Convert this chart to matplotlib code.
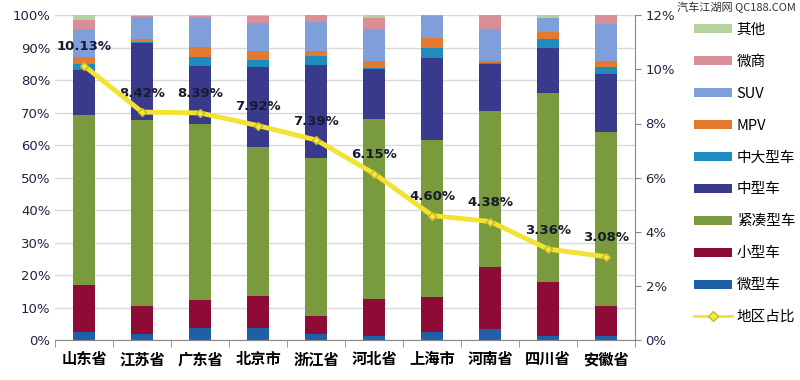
import numpy as np
import matplotlib
matplotlib.use("Agg")
import matplotlib.pyplot as plt
from matplotlib.ticker import FuncFormatter
from matplotlib.lines import Line2D
from matplotlib.patches import Patch

plt.rcParams['font.family'] = ['Noto Sans CJK SC', 'DejaVu Sans']

regions = ['山东省', '江苏省', '广东省', '北京市', '浙江省', '河北省', '上海市', '河南省', '四川省', '安徽省']

# segment shares (%) per region, bottom to top
micro = [2.5, 1.8, 3.7, 3.7, 1.8, 1.4, 2.5, 3.3, 1.4, 1.4]
small = [14.4, 8.7, 8.6, 9.9, 5.7, 11.1, 10.8, 19.1, 16.5, 9.1]
compact = [52.5, 57.2, 54.2, 45.7, 48.7, 55.4, 48.4, 48.1, 58.3, 53.4]
mid = [13.7, 23.6, 17.9, 24.8, 28.6, 15.4, 25.0, 14.6, 13.7, 18.1]
midlarge = [1.8, 0.3, 2.6, 2.1, 2.6, 0.3, 3.2, 0.3, 2.9, 2.1]
mpv = [2.3, 1.0, 3.3, 2.7, 1.6, 2.3, 3.2, 0.5, 1.9, 1.8]
suv = [8.7, 6.7, 8.7, 8.7, 8.9, 9.7, 6.7, 10.0, 4.5, 11.3]
weishang = [2.6, 0.5, 0.8, 2.2, 2.1, 3.6, 0.2, 4.1, 0.0, 2.8]
other = [1.5, 0.2, 0.2, 0.2, 0.0, 0.8, 0.0, 0.0, 0.8, 0.0]

share = [10.13, 8.42, 8.39, 7.92, 7.39, 6.15, 4.60, 4.38, 3.36, 3.08]

series = [
    ('微型车', micro, '#1f5fa8'),
    ('小型车', small, '#8e0b35'),
    ('紧凑型车', compact, '#7a9a3e'),
    ('中型车', mid, '#3a3a8c'),
    ('中大型车', midlarge, '#1f8cbf'),
    ('MPV', mpv, '#e47a2e'),
    ('SUV', suv, '#7f9fdb'),
    ('微商', weishang, '#d98e98'),
    ('其他', other, '#b5d39c'),
]

fig = plt.figure(figsize=(8, 3.8), dpi=100)
ax = fig.add_axes([0.069, 0.105, 0.725, 0.855])
x = np.arange(len(regions))
bottom = np.zeros(len(regions))
for name, vals, color in series:
    ax.bar(x, vals, 0.38, bottom=bottom, color=color, label=name, zorder=2)
    bottom += np.array(vals)

ax.set_xlim(-0.5, len(regions) - 0.5)
ax.set_ylim(0, 100)
ax.set_yticks(np.arange(0, 101, 10))
ax.yaxis.set_major_formatter(FuncFormatter(lambda v, p: f'{v:.0f}%'))
ax.grid(axis='y', color='#d9d9d9', linewidth=1, zorder=0)
ax.set_xticks(x)
ax.set_xticklabels(regions, fontsize=11, fontweight='bold')
ax.set_xticks(np.arange(-0.5, len(regions)), minor=True)
ax.tick_params(axis='x', which='major', length=0, pad=8)
ax.tick_params(axis='x', which='minor', length=5, color='#888888')
ax.tick_params(axis='y', length=0, labelsize=9.5, labelcolor='#222244')
for lab in ax.get_yticklabels():
    lab.set_family('DejaVu Sans')
for s in ['top', 'left', 'right']:
    ax.spines[s].set_visible(False)
ax.spines['bottom'].set_color('#888888')

ax2 = ax.twinx()
ax2.plot(x, share, color='#f2e332', linewidth=3.5, marker='D', markersize=4,
         markerfacecolor='#f5e84a', markeredgecolor='#c8b820', zorder=5)
for xi, v in zip(x, share):
    ax2.annotate(f'{v:.2f}%', (xi, v), xytext=(0, 9), textcoords='offset points',
                 ha='center', va='bottom', fontsize=9.5, fontweight='bold',
                 color='#1a1a2e', family='DejaVu Sans')
ax2.set_ylim(0, 12)
ax2.set_yticks(np.arange(0, 13, 2))
ax2.yaxis.set_major_formatter(FuncFormatter(lambda v, p: f'{v:.0f}%'))
ax2.tick_params(axis='y', length=4, color='#888888', labelsize=9.5, labelcolor='#222244')
for lab in ax2.get_yticklabels():
    lab.set_family('DejaVu Sans')
for s in ['top', 'left', 'bottom']:
    ax2.spines[s].set_visible(False)
ax2.spines['right'].set_color('#888888')

handles = [Patch(facecolor=c, label=n) for n, v, c in series[::-1]]
handles.append(Line2D([0], [0], color='#f2e332', linewidth=2, marker='D', markersize=5,
                      markerfacecolor='#f5e84a', markeredgecolor='#c8b820', label='地区占比'))
fig.legend(handles=handles, loc='upper left', bbox_to_anchor=(0.868, 0.94), frameon=False,
           borderpad=0, borderaxespad=0, handlelength=2.6, handleheight=0.55,
           handletextpad=0.3, labelspacing=1.23, prop={'size': 10.5, 'weight': 'medium'})

fig.text(0.995, 0.995, '汽车江湖网 QC188.COM', ha='right', va='top', fontsize=8, color='#333333')

fig.savefig('out.png', dpi=100)
